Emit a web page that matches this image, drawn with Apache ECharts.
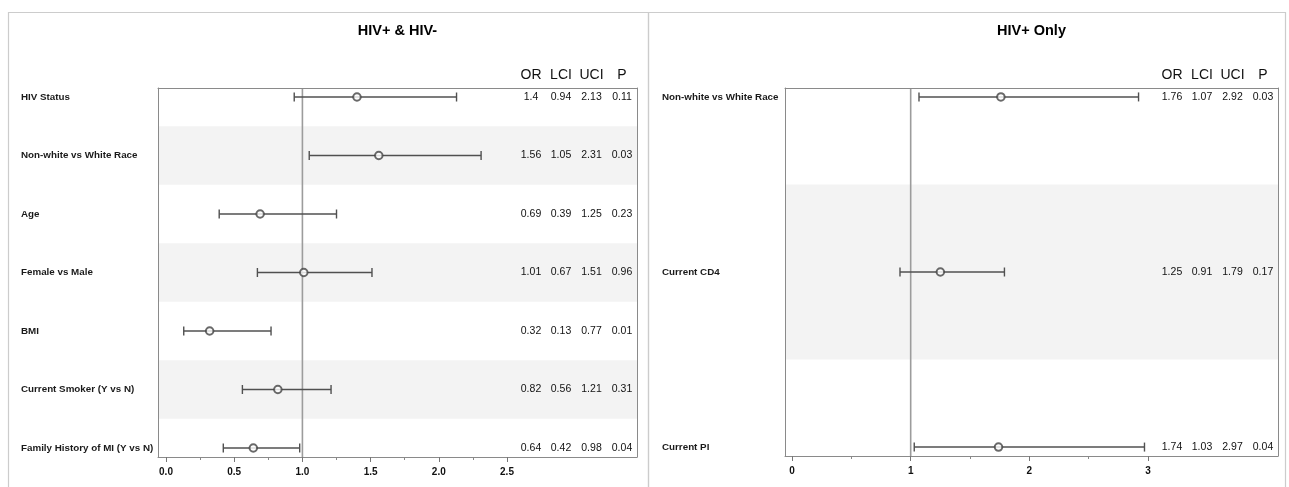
<!DOCTYPE html>
<html>
<head>
<meta charset="utf-8">
<script src="https://cdn.jsdelivr.net/npm/echarts@6/dist/echarts.min.js"></script>
<style>
html,body{margin:0;padding:0;background:#fff;}
#chart{width:1289px;height:487px;}
</style>
</head>
<body>
<div id="chart"></div>
<script>
// ---------- DATA ----------
const leftTitle = 'HIV+ & HIV-';
const leftCats = ['HIV Status','Non-white vs White Race','Age','Female vs Male','BMI','Current Smoker (Y vs N)','Family History of MI (Y vs N)'];
const leftOR  = [1.4, 1.56, 0.69, 1.01, 0.32, 0.82, 0.64];
const leftLCI = [0.94, 1.05, 0.39, 0.67, 0.13, 0.56, 0.42];
const leftUCI = [2.13, 2.31, 1.25, 1.51, 0.77, 1.21, 0.98];
const leftP   = [0.11, 0.03, 0.23, 0.96, 0.01, 0.31, 0.04];
const leftTicks = [0, 0.5, 1.0, 1.5, 2.0, 2.5];
const leftMinorTicks = [0.25, 0.75, 1.25, 1.75, 2.25];

const rightTitle = 'HIV+ Only';
const rightCats = ['Non-white vs White Race','Current CD4','Current PI'];
const rightOR  = [1.76, 1.25, 1.74];
const rightLCI = [1.07, 0.91, 1.03];
const rightUCI = [2.92, 1.79, 2.97];
const rightP   = [0.03, 0.17, 0.04];
const rightTicks = [0, 1, 2, 3];
const rightMinorTicks = [0.5, 1.5, 2.5];

const colHeaders = ['OR','LCI','UCI','P'];
const refValue = 1;

// ---------- LAYOUT ----------
const FONT = 'Liberation Sans, Arial, sans-serif';
const colOffsets = [106, 76, 45.5, 15]; // distance of column centers from plot right edge
const panels = [
  {title:leftTitle, cats:leftCats, or:leftOR, lci:leftLCI, uci:leftUCI, p:leftP, ticks:leftTicks, minor:leftMinorTicks,
   grid:{left:158, top:88, width:479, height:369}, xmin:-0.0587, xmax:3.453, ymin:0.846, ymax:7.154, labelMargin:137,
   fmt:v=>v.toFixed(1), box:{x:8.5, y:12.5, w:640, h:490}},
  {title:rightTitle, cats:rightCats, or:rightOR, lci:rightLCI, uci:rightUCI, p:rightP, ticks:rightTicks, minor:rightMinorTicks,
   grid:{left:785, top:88, width:493, height:368}, xmin:-0.059, xmax:4.095, ymin:0.949, ymax:3.051, labelMargin:123,
   fmt:v=>String(Math.round(v)), box:{x:648.5, y:12.5, w:637, h:490}}
];

const grids = [], xAxes = [], yAxes = [], series = [], graphics = [];
const axisColor = '#8a8a8a';

panels.forEach((pn, gi) => {
  grids.push(Object.assign({containLabel:false}, pn.grid));
  const xBase = xAxes.length, yBase = yAxes.length;
  // main x axis with labels & major ticks
  xAxes.push({type:'value', gridIndex:gi, position:'bottom', min:pn.xmin, max:pn.xmax, z:10,
    splitLine:{show:false},
    axisLine:{show:true, onZero:false, lineStyle:{color:axisColor, width:1}},
    axisTick:{show:true, length:5, customValues:pn.ticks, lineStyle:{color:'#777'}},
    axisLabel:{show:true, customValues:pn.ticks, formatter:pn.fmt, margin:10,
      fontFamily:FONT, fontSize:10, fontWeight:'bold', color:'#111'}});
  // minor ticks
  xAxes.push({type:'value', gridIndex:gi, position:'bottom', min:pn.xmin, max:pn.xmax, z:10,
    splitLine:{show:false}, axisLine:{show:false, onZero:false},
    axisTick:{show:true, length:3, customValues:pn.minor, lineStyle:{color:'#888'}},
    axisLabel:{show:false}});
  // top border
  xAxes.push({type:'value', gridIndex:gi, position:'top', min:pn.xmin, max:pn.xmax, z:10,
    splitLine:{show:false}, axisLine:{show:true, onZero:false, lineStyle:{color:axisColor}},
    axisTick:{show:false}, axisLabel:{show:false}});
  // y axis with row labels
  yAxes.push({type:'value', gridIndex:gi, position:'left', inverse:true, min:pn.ymin, max:pn.ymax, z:10,
    splitLine:{show:false},
    axisLine:{show:true, onZero:false, lineStyle:{color:axisColor}},
    axisTick:{show:false},
    axisLabel:{show:true, customValues:pn.cats.map((c,i)=>i+1), formatter:v=>pn.cats[Math.round(v)-1] || '',
      align:'left', margin:pn.labelMargin, fontFamily:FONT, fontSize:9.8, fontWeight:'bold', color:'#1a1a1a'}});
  // right border
  yAxes.push({type:'value', gridIndex:gi, position:'right', inverse:true, min:pn.ymin, max:pn.ymax, z:10,
    splitLine:{show:false}, axisLine:{show:true, onZero:false, lineStyle:{color:axisColor}},
    axisTick:{show:false}, axisLabel:{show:false}});

  const rows = pn.cats.map((c,i)=>i+1);
  // alternating bands (even rows)
  series.push({type:'custom', xAxisIndex:xBase, yAxisIndex:yBase, z:1, silent:true,
    data: rows.filter(r=>r%2===0).map(r=>[r]),
    encode:{y:0},
    renderItem:(params, api)=>{
      const r = api.value(0), cs = params.coordSys;
      const y1 = api.coord([0, r-0.5])[1], y2 = api.coord([0, r+0.5])[1];
      return {type:'rect', shape:{x:cs.x, y:Math.min(y1,y2), width:cs.width, height:Math.abs(y2-y1)},
        style:{fill:'#f3f3f3'}};
    }});
  // reference line at 1
  series.push({type:'custom', xAxisIndex:xBase, yAxisIndex:yBase, z:2, silent:true,
    data:[[refValue]], encode:{x:0},
    renderItem:(params, api)=>{
      const cs = params.coordSys;
      const x = api.coord([api.value(0), pn.ymin])[0];
      return {type:'line', shape:{x1:x, y1:cs.y, x2:x, y2:cs.y+cs.height},
        style:{stroke:'#9c9c9c', lineWidth:1.6}};
    }});
  // error bars
  series.push({type:'custom', xAxisIndex:xBase, yAxisIndex:yBase, z:3, silent:true,
    data: rows.map((r,i)=>[r, pn.lci[i], pn.uci[i]]),
    encode:{y:0, x:[1,2]},
    renderItem:(params, api)=>{
      const r = api.value(0);
      const a = api.coord([api.value(1), r]), b = api.coord([api.value(2), r]);
      const h = 4.5, st = {stroke:'#505050', lineWidth:1.4};
      return {type:'group', children:[
        {type:'line', shape:{x1:a[0], y1:a[1], x2:b[0], y2:b[1]}, style:st},
        {type:'line', shape:{x1:a[0], y1:a[1]-h, x2:a[0], y2:a[1]+h}, style:st},
        {type:'line', shape:{x1:b[0], y1:b[1]-h, x2:b[0], y2:b[1]+h}, style:st}
      ]};
    }});
  // OR markers
  series.push({type:'scatter', xAxisIndex:xBase, yAxisIndex:yBase, z:4, silent:true,
    symbol:'emptyCircle', symbolSize:7.5,
    itemStyle:{color:'#444', borderColor:'#444', borderWidth:1.3},
    data: rows.map((r,i)=>[pn.or[i], r])});
  // value columns
  series.push({type:'custom', xAxisIndex:xBase, yAxisIndex:yBase, z:4, silent:true,
    data: rows.map((r,i)=>[r, pn.or[i], pn.lci[i], pn.uci[i], pn.p[i]]),
    encode:{y:0},
    renderItem:(params, api)=>{
      const cs = params.coordSys, r = api.value(0);
      const y = api.coord([0, r])[1], right = cs.x + cs.width;
      const vals = [api.value(1), api.value(2), api.value(3), api.value(4)];
      return {type:'group', children: vals.map((v,k)=>({type:'text',
        style:{text:String(v), x:right-colOffsets[k], y:y, textAlign:'center', textVerticalAlign:'middle',
          align:'center', verticalAlign:'middle', font:'10.5px '+FONT, fill:'#111'}}))};
    }});

  // panel frame
  graphics.push({type:'rect', z:0, silent:true, shape:{x:pn.box.x, y:pn.box.y, width:pn.box.w, height:pn.box.h},
    style:{fill:'none', stroke:'#cccccc', lineWidth:1.2}});
  // title
  graphics.push({type:'text', silent:true, style:{text:pn.title, x:pn.grid.left+pn.grid.width/2, y:31,
    textAlign:'center', textVerticalAlign:'middle', align:'center', verticalAlign:'middle',
    font:'bold 14.5px '+FONT, fill:'#000'}});
  // column headers
  colHeaders.forEach((hd,k)=>{
    graphics.push({type:'text', silent:true, style:{text:hd, x:pn.grid.left+pn.grid.width-colOffsets[k], y:75,
      textAlign:'center', textVerticalAlign:'middle', align:'center', verticalAlign:'middle',
      font:'14px '+FONT, fill:'#111'}});
  });
});

const chart = echarts.init(document.getElementById('chart'), null, {renderer:'canvas'});
chart.setOption({
  animation:false,
  backgroundColor:'#fff',
  grid:grids, xAxis:xAxes, yAxis:yAxes, series:series,
  graphic:{elements:graphics}
});
</script>
</body>
</html>
